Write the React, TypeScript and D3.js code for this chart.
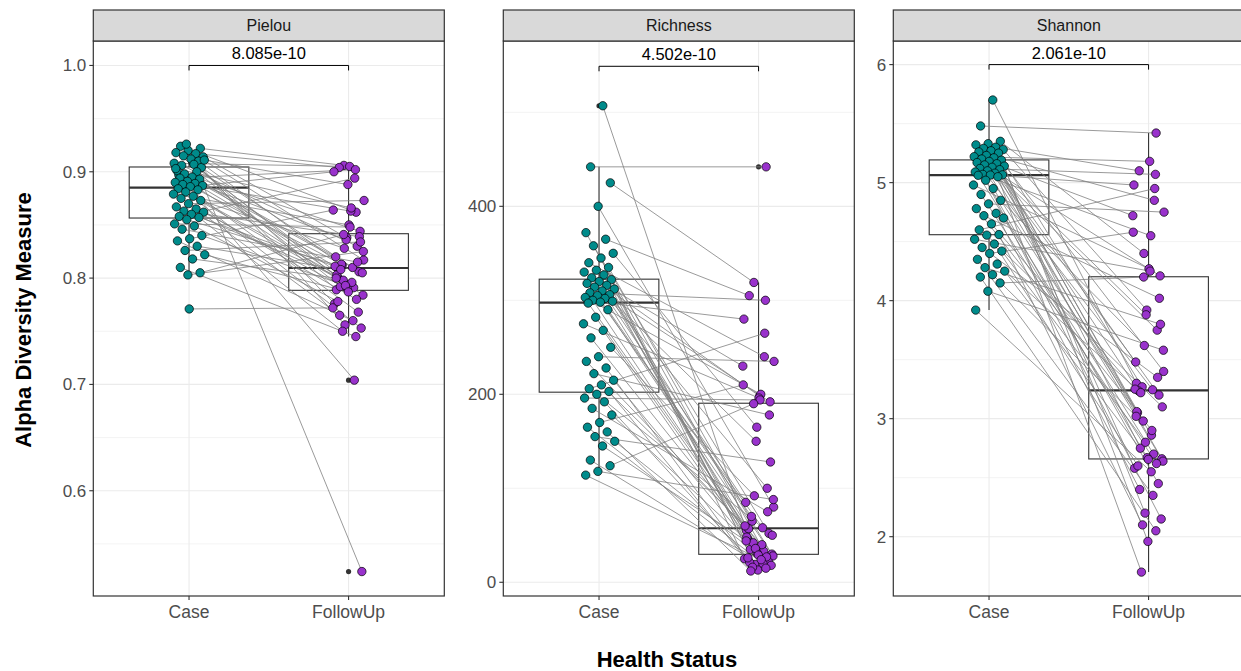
import * as d3 from 'd3';

// paired samples, same subject order in Case and FollowUp arrays
const groups = ['Case', 'FollowUp'];
const metrics = ['Pielou', 'Richness', 'Shannon'];
const pValues = ['8.085e-10', '4.502e-10', '2.061e-10'];

const pielouCase = [
  0.909, 0.924, 0.922, 0.920, 0.918, 0.917, 0.915, 0.914, 0.912, 0.897,
  0.910, 0.926, 0.908, 0.907, 0.906, 0.904, 0.771, 0.901, 0.900, 0.898,
  0.911, 0.895, 0.894, 0.893, 0.891, 0.890, 0.889, 0.888, 0.887, 0.886,
  0.884, 0.883, 0.881, 0.879, 0.877, 0.875, 0.873, 0.870, 0.867, 0.865,
  0.863, 0.862, 0.860, 0.858, 0.857, 0.855, 0.851, 0.849, 0.846, 0.840,
  0.837, 0.835, 0.830, 0.826, 0.822, 0.818, 0.810, 0.805, 0.803, 0.903,
];
const pielouFollowUp = [
  0.789, 0.862, 0.906, 0.817, 0.795, 0.904, 0.806, 0.838, 0.776, 0.704,
  0.812, 0.524, 0.905, 0.801, 0.830, 0.756, 0.772, 0.810, 0.792, 0.844,
  0.888, 0.820, 0.902, 0.798, 0.784, 0.863, 0.809, 0.768, 0.836, 0.900,
  0.791, 0.813, 0.753, 0.850, 0.803, 0.780, 0.828, 0.873, 0.796, 0.765,
  0.839, 0.790, 0.811, 0.894, 0.750, 0.805, 0.848, 0.778, 0.815, 0.793,
  0.864, 0.760, 0.808, 0.834, 0.787, 0.800, 0.745, 0.841, 0.825, 0.866,
];

const richnessCase = [
  507, 442, 425, 400, 372, 365, 358, 350, 345, 340,
  335, 332, 330, 327, 324, 322, 320, 318, 316, 314,
  312, 310, 308, 306, 305, 303, 302, 300, 299, 298,
  297, 290, 282, 275, 268, 260, 250, 240, 235, 228,
  222, 215, 210, 206, 203, 200, 196, 192, 185, 178,
  170, 165, 160, 155, 150, 145, 130, 124, 118, 114,
];
const richnessFollowUp = [
  55, 442, 319, 80, 38, 305, 52, 165, 25, 240,
  65, 30, 198, 46, 100, 19, 230, 58, 35, 192,
  13, 85, 300, 42, 28, 200, 57, 22, 150, 280,
  33, 70, 18, 196, 48, 27, 92, 235, 40, 21,
  178, 31, 60, 265, 16, 50, 194, 26, 75, 36,
  210, 20, 12, 128, 29, 44, 15, 190, 88, 24,
];

const shannonCase = [
  5.70, 5.48, 5.35, 5.33, 5.32, 5.30, 5.29, 5.28, 5.27, 5.26,
  5.25, 5.23, 5.22, 5.21, 5.20, 5.19, 5.18, 5.17, 5.16, 5.15,
  5.14, 5.13, 5.12, 5.11, 5.10, 5.09, 5.08, 5.07, 5.066, 5.064,
  5.062, 5.05, 5.02, 4.98, 4.95, 4.90, 4.85, 4.82, 4.78, 4.74,
  4.72, 4.70, 4.65, 4.60, 4.56, 4.555, 4.52, 4.48, 4.45, 4.42,
  4.40, 4.35, 4.31, 4.28, 4.25, 4.22, 4.20, 4.15, 4.08, 3.92,
];
const shannonFollowUp = [
  3.30, 5.42, 4.40, 3.40, 2.86, 5.10, 3.20, 3.92, 2.58, 4.85,
  3.27, 2.66, 5.18, 3.05, 3.75, 2.20, 4.72, 3.245, 2.75, 4.21,
  1.96, 3.48, 5.07, 2.98, 2.64, 4.55, 3.235, 2.45, 3.88, 4.98,
  2.70, 1.70, 2.15, 4.27, 3.06, 2.62, 3.62, 4.75, 2.90, 2.40,
  4.02, 2.67, 3.25, 4.95, 2.10, 3.10, 4.25, 2.60, 3.35, 2.80,
  4.58, 2.35, 3.22, 3.80, 2.655, 3.02, 2.05, 4.20, 3.58, 2.55,
];

// y limits of each panel and its tick marks
const yLimits = [[0.501, 1.023], [-14.6, 575.9], [1.4975, 6.2]];
const yMajor = [[0.6, 0.7, 0.8, 0.9, 1.0], [0, 200, 400], [2, 3, 4, 5, 6]];
const yMinor = [[0.55, 0.65, 0.75, 0.85, 0.95], [100, 300, 500], [2.5, 3.5, 4.5, 5.5]];
const yFormat = ['.1f', 'd', 'd'];
const bracketY = [1.0, 549, 6.0];

const panelData = [
  [pielouCase, pielouFollowUp],
  [richnessCase, richnessFollowUp],
  [shannonCase, shannonFollowUp],
];

const colors = ['#008b8b', '#9932cc'];
const font = 'Liberation Sans, Arial, sans-serif';

const panelLeft = [93.3, 503.3, 893.3];
const panelW = 351;
const stripTop = 10;
const panelTop = 41;
const panelBottom = 596;

function boxStats(values: number[]) {
  const s = [...values].sort(d3.ascending);
  const q1 = d3.quantile(s, 0.25)!;
  const med = d3.quantile(s, 0.5)!;
  const q3 = d3.quantile(s, 0.75)!;
  const iqr = q3 - q1;
  const inside = s.filter(v => v >= q1 - 1.5 * iqr && v <= q3 + 1.5 * iqr);
  const outliers = s.filter(v => v < q1 - 1.5 * iqr || v > q3 + 1.5 * iqr);
  return { q1, med, q3, lo: d3.min(inside)!, hi: d3.max(inside)!, outliers };
}

// fixed jitter, within +-0.1 of the category
const jitter = (i: number, g: number) => ((((i + 1) * 0.618034 + g * 0.5) % 1) - 0.5) * 0.2;

function Panel({ k }: { k: number }) {
  const left = panelLeft[k];
  const x = d3.scaleLinear().domain([0.4, 2.6]).range([left, left + panelW]);
  const y = d3.scaleLinear().domain(yLimits[k]).range([panelBottom, panelTop]);
  const fmt = d3.format(yFormat[k]);
  const [caseV, followV] = panelData[k];
  const stats = [boxStats(caseV), boxStats(followV)];

  return (
    <g>
      <rect x={left} y={panelTop} width={panelW} height={panelBottom - panelTop} fill="#fff" />
      {yMinor[k].map(t => (
        <line key={'mi' + t} x1={left} x2={left + panelW} y1={y(t)} y2={y(t)} stroke="#ebebeb" strokeWidth={0.6} />
      ))}
      {yMajor[k].map(t => (
        <line key={'ma' + t} x1={left} x2={left + panelW} y1={y(t)} y2={y(t)} stroke="#ebebeb" strokeWidth={1.1} />
      ))}
      {groups.map((g, gi) => (
        <line key={'vg' + g} x1={x(gi + 1)} x2={x(gi + 1)} y1={panelTop} y2={panelBottom} stroke="#ebebeb" strokeWidth={1.1} />
      ))}

      {stats.map((s, gi) => {
        const cx = x(gi + 1);
        const bw = x(1.375) - x(1);
        return (
          <g key={'box' + gi}>
            <line x1={cx} x2={cx} y1={y(s.hi)} y2={y(s.q3)} stroke="#333" strokeWidth={1.1} />
            <line x1={cx} x2={cx} y1={y(s.q1)} y2={y(s.lo)} stroke="#333" strokeWidth={1.1} />
            <rect x={cx - bw} y={y(s.q3)} width={bw * 2} height={y(s.q1) - y(s.q3)} fill="#fff" stroke="#333" strokeWidth={1.1} />
            <line x1={cx - bw} x2={cx + bw} y1={y(s.med)} y2={y(s.med)} stroke="#333" strokeWidth={2.2} />
            {s.outliers.map((o, oi) => (
              <circle key={oi} cx={cx} cy={y(o)} r={2.6} fill="#333" />
            ))}
          </g>
        );
      })}

      {caseV.map((v, i) => (
        <line
          key={'ln' + i}
          x1={x(1 + jitter(i, 0))}
          y1={y(v)}
          x2={x(2 + jitter(i, 1))}
          y2={y(followV[i])}
          stroke="#808080"
          strokeWidth={0.8}
        />
      ))}

      {[caseV, followV].map((vals, gi) =>
        vals.map((v, i) => (
          <circle
            key={'pt' + gi + '-' + i}
            cx={x(gi + 1 + jitter(i, gi))}
            cy={y(v)}
            r={4.2}
            fill={colors[gi]}
            stroke="#000"
            strokeWidth={0.7}
          />
        ))
      )}

      {/* comparison bracket */}
      <path
        d={`M${x(1)},${y(bracketY[k]) + 5}V${y(bracketY[k])}H${x(2)}V${y(bracketY[k]) + 5}`}
        fill="none"
        stroke="#000"
        strokeWidth={1}
      />
      <text x={(x(1) + x(2)) / 2} y={y(bracketY[k]) - 6} textAnchor="middle" fontSize={16.5} fill="#000">
        {pValues[k]}
      </text>

      <rect x={left} y={panelTop} width={panelW} height={panelBottom - panelTop} fill="none" stroke="#333" strokeWidth={1.2} />

      {/* strip */}
      <rect x={left} y={stripTop} width={panelW} height={panelTop - stripTop} fill="#d9d9d9" stroke="#333" strokeWidth={1.2} />
      <text x={left + panelW / 2} y={(stripTop + panelTop) / 2} dy="0.35em" textAnchor="middle" fontSize={16} fill="#1a1a1a">
        {metrics[k]}
      </text>

      {/* y axis */}
      {yMajor[k].map(t => (
        <g key={'yt' + t}>
          <line x1={left - 4} x2={left} y1={y(t)} y2={y(t)} stroke="#333" strokeWidth={1.1} />
          <text x={left - 7} y={y(t)} dy="0.35em" textAnchor="end" fontSize={17} fill="#4d4d4d">
            {fmt(t)}
          </text>
        </g>
      ))}

      {/* x axis */}
      {groups.map((g, gi) => (
        <g key={'xt' + g}>
          <line x1={x(gi + 1)} x2={x(gi + 1)} y1={panelBottom} y2={panelBottom + 4} stroke="#333" strokeWidth={1.1} />
          <text x={x(gi + 1)} y={panelBottom + 22} textAnchor="middle" fontSize={17.5} fill="#4d4d4d">
            {g}
          </text>
        </g>
      ))}
    </g>
  );
}

export default function App() {
  return (
    <svg
      width={1241}
      height={671}
      style={{ position: 'absolute', left: 0, top: 0, background: '#fff' }}
      fontFamily={font}
    >
      <rect width={1241} height={671} fill="#fff" />
      {metrics.map((m, k) => (
        <Panel key={m} k={k} />
      ))}
      <text
        transform="translate(23,320) rotate(-90)"
        textAnchor="middle"
        dy="0.35em"
        fontSize={22}
        fontWeight="bold"
        fill="#000"
      >
        Alpha Diversity Measure
      </text>
      <text x={667} y={659} dy="0.35em" textAnchor="middle" fontSize={22} fontWeight="bold" fill="#000">
        Health Status
      </text>
    </svg>
  );
}
